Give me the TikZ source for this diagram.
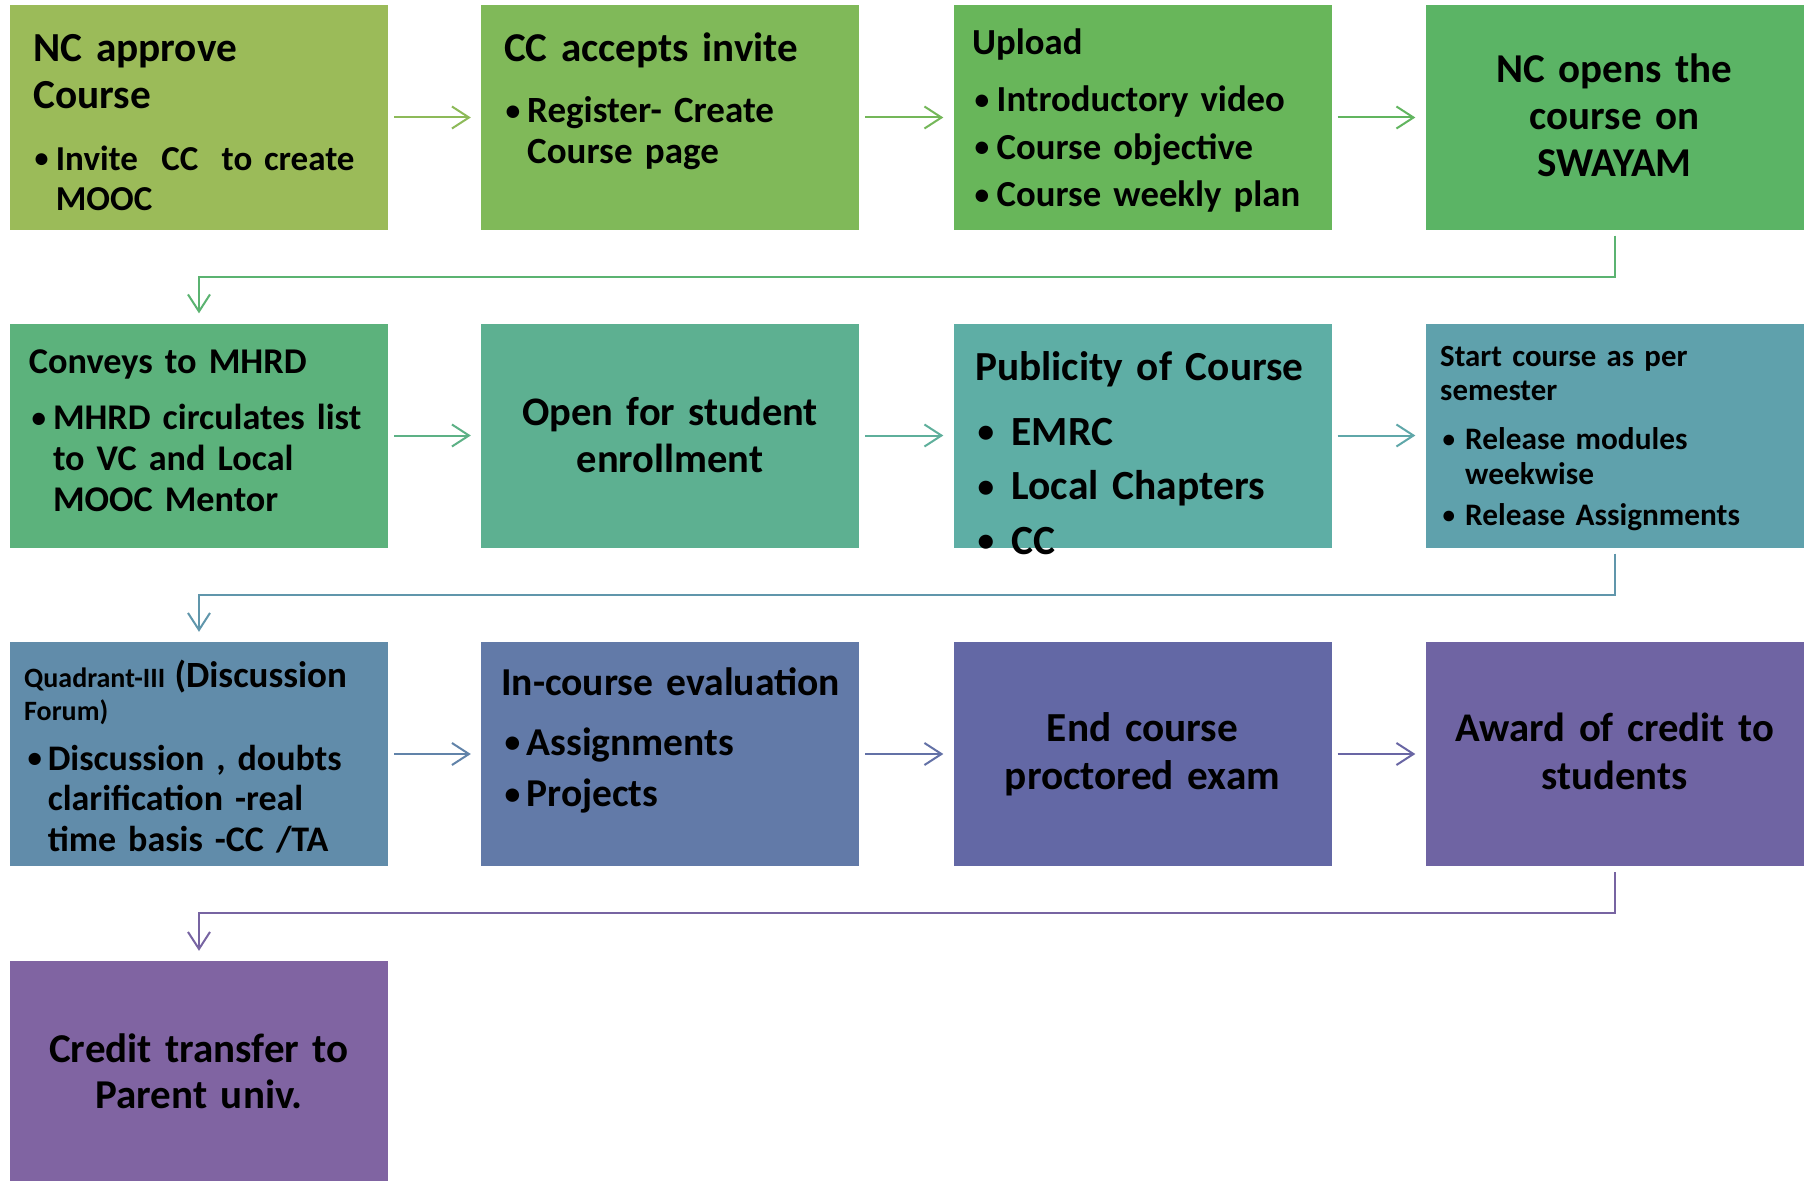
\documentclass[tikz,border=0pt]{standalone}
\usepackage{fontspec}
\setmainfont{Carlito}
\usetikzlibrary{arrows.meta,calc}
\definecolor{c1}{HTML}{9BBB59}
\definecolor{c2}{HTML}{80B959}
\definecolor{c3}{HTML}{68B65A}
\definecolor{c4}{HTML}{5BB465}
\definecolor{c5}{HTML}{5CB27C}
\definecolor{c6}{HTML}{5DB091}
\definecolor{c7}{HTML}{5EAEA5}
\definecolor{c8}{HTML}{5FA1AC}
\definecolor{c9}{HTML}{618CAA}
\definecolor{c10}{HTML}{627AA8}
\definecolor{c11}{HTML}{6368A5}
\definecolor{c12}{HTML}{6F64A3}
\definecolor{c13}{HTML}{8064A2}
\newcommand{\bul}[1]{\makebox[#1][l]{\hspace{1.5pt}\raisebox{0.06em}{\scalebox{0.8}{•}}}}
\newcommand{\ind}[1]{\hspace*{#1}}
\newcommand{\fs}[2]{\fontsize{#1}{#2}\selectfont\bfseries}
\begin{document}
\begin{tikzpicture}[x=1pt,y=-1pt,
  box/.style={minimum width=378pt, minimum height=224pt, inner sep=0pt, draw=none},
  lt/.style={anchor=base west, text width=400pt, align=left, inner sep=0pt},
  ct/.style={anchor=base, text width=378pt, align=center, inner sep=0pt},
  conn/.style={line width=2pt, -{Straight Barb[length=17pt,width=22pt]}, shorten <=6pt, shorten >=10pt}]
\useasboundingbox[fill=white] (0,0) rectangle (1806,1180);

% boxes
\node[box, fill=c1]  (b1)  at (199,117.5) {};
\node[box, fill=c2]  (b2)  at (670,117.5) {};
\node[box, fill=c3]  (b3)  at (1142.5,117.5) {};
\node[box, fill=c4]  (b4)  at (1614.5,117.5) {};
\node[box, fill=c5]  (b5)  at (199,435.5) {};
\node[box, fill=c6]  (b6)  at (670,435.5) {};
\node[box, fill=c7]  (b7)  at (1142.5,435.5) {};
\node[box, fill=c8]  (b8)  at (1614.5,435.5) {};
\node[box, fill=c9]  (b9)  at (199,754) {};
\node[box, fill=c10] (b10) at (670,754) {};
\node[box, fill=c11] (b11) at (1142.5,754) {};
\node[box, fill=c12] (b12) at (1614.5,754) {};
\node[box, fill=c13] (b13) at (199,1073) {};

% texts
\node[lt, font=\fs{41.3}{46.6}] (t1) at (33,61.7) {NC approve\\Course};
\node[lt, font=\fs{35}{40}] (l1) at (33,170) {\bul{22.7pt}Invite\ \ CC\ \ to create\\\ind{22.7pt}MOOC};

\node[lt, font=\fs{41}{46}] (t2) at (504,61.7) {CC accepts invite};
\node[lt, font=\fs{37}{40}] (l2) at (504,123) {\bul{23pt}Register- Create\\\ind{23pt}Course page};

\node[lt, font=\fs{36.7}{44}] (t3) at (972,55) {Upload};
\node[lt, font=\fs{36.7}{47.5}] (l3) at (973,111.7) {\bul{23.5pt}Introductory video\\\bul{23.5pt}Course objective\\\bul{23.5pt}Course weekly plan};

\node[ct, font=\fs{41}{47}] (t4) at (1614.5,82.7) {NC opens the\\course on\\SWAYAM};

\node[lt, font=\fs{36.3}{44}] (t5) at (28.7,373.3) {Conveys to MHRD};
\node[lt, font=\fs{36.2}{41.2}] (l5) at (30,429.3) {\bul{22.8pt}MHRD circulates list\\\ind{22.8pt}to VC and Local\\\ind{22.8pt}MOOC Mentor};

\node[ct, font=\fs{40.5}{47.3}] (t6) at (670,425) {Open for student\\enrollment};

\node[lt, font=\fs{41.3}{48}] (t7) at (975,380.7) {Publicity of Course};
\node[lt, font=\fs{41.5}{54.5}] (l7) at (976,445) {\bul{35.5pt}EMRC\\\bul{35.5pt}Local Chapters\\\bul{35.5pt}CC};

\node[lt, font=\fs{30.8}{34}] (t8) at (1440,366.7) {Start course as per\\semester};
\node[lt, font=\fs{31.3}{35}] (l8) at (1441,449.3) {\bul{24pt}Release modules\\\ind{24pt}weekwise\\[5.7pt]\bul{24pt}Release Assignments};

\node[lt, font=\fs{28}{32.7}] (t9) at (24,687.3) {Quadrant-III {\fs{37}{40}(Discussion}\\Forum)};
\node[lt, font=\fs{36}{40.9}] (l9) at (26,770) {\bul{21.6pt}Discussion , doubts\\\ind{21.6pt}clarification -real\\\ind{21.6pt}time basis -CC /TA};

\node[lt, font=\fs{39.6}{44}] (t10) at (501,695) {In-course evaluation};
\node[lt, font=\fs{39.5}{51.7}] (l10) at (503,755) {\bul{23.4pt}Assignments\\\bul{23.4pt}Projects};

\node[ct, font=\fs{41.3}{47.6}] (t11) at (1142.5,741.7) {End course\\proctored exam};
\node[ct, font=\fs{40.7}{47.6}] (t12) at (1614.5,741.7) {Award of credit to\\students};
\node[ct, font=\fs{41}{45.6}] (t13) at (199,1062.7) {Credit transfer to\\Parent univ.};

% connectors
\draw[conn, color=c1!50!c2] (b1.east) -- (b2.west);
\draw[conn, color=c2!50!c3] (b2.east) -- (b3.west);
\draw[conn, color=c3!50!c4] (b3.east) -- (b4.west);
\draw[conn, color=c4!50!c5] (b4.south) -- ++(0,47) -| (b5.north);
\draw[conn, color=c5!50!c6] (b5.east) -- (b6.west);
\draw[conn, color=c6!50!c7] (b6.east) -- (b7.west);
\draw[conn, color=c7!50!c8] (b7.east) -- (b8.west);
\draw[conn, color=c8!50!c9] (b8.south) -- ++(0,47.5) -| (b9.north);
\draw[conn, color=c9!50!c10] (b9.east) -- (b10.west);
\draw[conn, color=c10!50!c11] (b10.east) -- (b11.west);
\draw[conn, color=c11!50!c12] (b11.east) -- (b12.west);
\draw[conn, color=c12!50!c13] (b12.south) -- ++(0,47) -| (b13.north);
\end{tikzpicture}
\end{document}
